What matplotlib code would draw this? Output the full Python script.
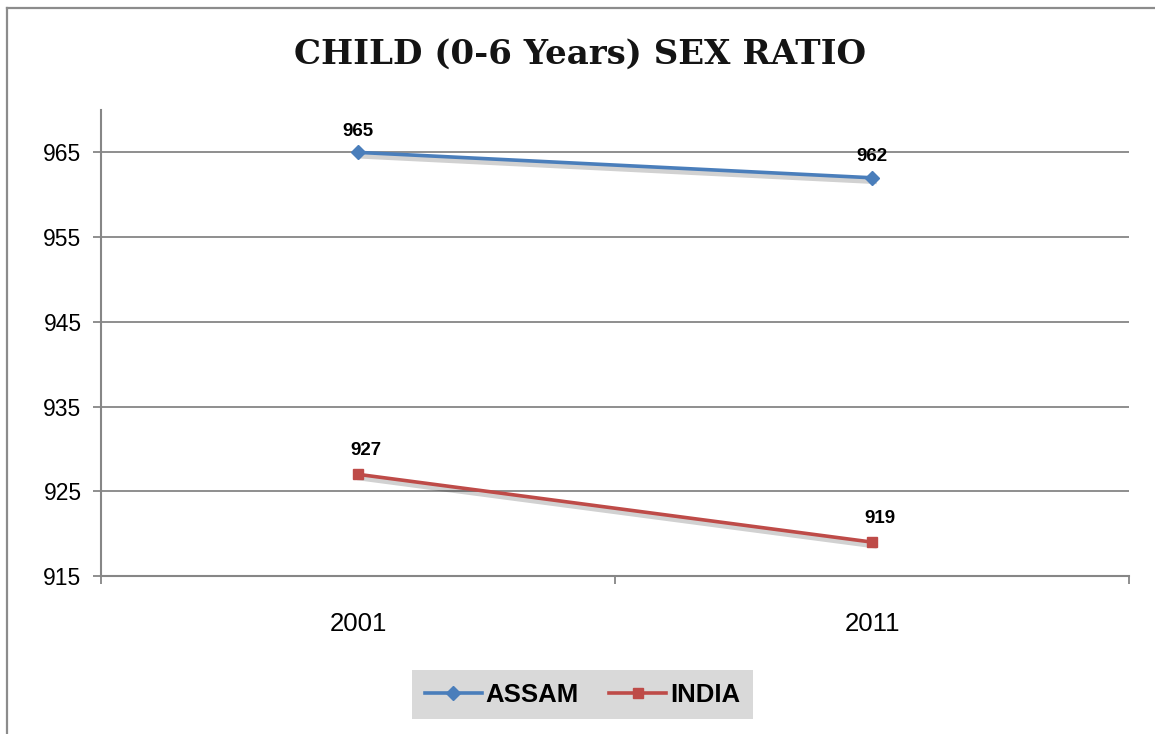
import matplotlib.pyplot as plt
import matplotlib.patheffects as pe
from matplotlib.lines import Line2D

# data
years = ["2001", "2011"]
assam = [965, 962]
india = [927, 919]
yticks = [915, 925, 935, 945, 955, 965]

W, H = 1155, 734
fig = plt.figure(figsize=(W / 100, H / 100), dpi=100)
ax = fig.add_axes([101 / W, 1 - 576 / H, (1129 - 101) / W, (576 - 110) / H])

grey = "#868686"
shadow = [pe.SimpleLineShadow(offset=(1.5, -2.5), alpha=0.18, shadow_color="black", linewidth=4),
          pe.Normal()]

x = list(range(len(years)))
series = [("ASSAM", assam, "#4A7EBB", "D"), ("INDIA", india, "#BE4B48", "s")]
handles = []
for name, vals, col, mk in series:
    ax.plot(x, vals, color=col, lw=2.6, path_effects=shadow, zorder=4)
    ax.plot(x, vals, color=col, ls="none", marker=mk, ms=7, zorder=5)
    handles.append(Line2D([], [], color=col, lw=2.6, marker=mk, ms=7, label=name))

for xi, v in zip(x, assam):
    ax.annotate(str(v), (xi, v), xytext=(0, 15), textcoords="offset points",
                ha="center", va="center", fontsize=13.5, fontweight="bold",
                family="Liberation Sans")
for xi, v in zip(x, india):
    ax.annotate(str(v), (xi, v), xytext=(6, 17), textcoords="offset points",
                ha="center", va="center", fontsize=13.5, fontweight="bold",
                family="Liberation Sans")

ax.set_xlim(-0.5, 1.5)
ax.set_ylim(915, 970)
ax.set_yticks(yticks)
ax.set_yticklabels([str(t) for t in yticks], fontsize=16.5, family="Liberation Sans")
ax.set_xticks([-0.5, 0.5, 1.5])
ax.set_xticklabels([])
ax.set_xticks(x, minor=True)
ax.set_xticklabels(years, minor=True, fontsize=18.5, family="Liberation Sans")
ax.tick_params(axis="x", which="minor", length=0, pad=26)
ax.tick_params(axis="x", which="major", length=6, width=1.3, color=grey)
ax.tick_params(axis="y", length=6, width=1.3, color=grey, pad=8)

ax.grid(axis="y", color=grey, lw=1.3)
ax.set_axisbelow(True)
for s in ["top", "right"]:
    ax.spines[s].set_visible(False)
for s in ["left", "bottom"]:
    ax.spines[s].set_color(grey)
    ax.spines[s].set_linewidth(1.5)

fig.text(580 / W, 1 - 54 / H, "CHILD (0-6 Years) SEX RATIO", ha="center", va="center",
         fontsize=24.5, fontweight="heavy", family="DejaVu Serif", color="#141414")

# outer chart frame
fig.add_artist(Line2D([6.5 / W, 6.5 / W], [0, 1 - 8 / H], transform=fig.transFigure,
                      color="#8C8C8C", lw=1.6))
fig.add_artist(Line2D([6.5 / W, 1], [1 - 8 / H, 1 - 8 / H], transform=fig.transFigure,
                      color="#8C8C8C", lw=1.6))

fig.legend(handles=handles, loc="center", bbox_to_anchor=(582.5 / W, 1 - 694.5 / H), ncol=2,
           frameon=True, fancybox=False, facecolor="#D9D9D9", edgecolor="none",
           framealpha=1, handlelength=2.2, handletextpad=0.15, columnspacing=1.2,
           borderpad=0.5, borderaxespad=0,
           prop={"family": "Liberation Sans", "weight": "bold", "size": 18.5})

fig.savefig("out.png", dpi=100)
